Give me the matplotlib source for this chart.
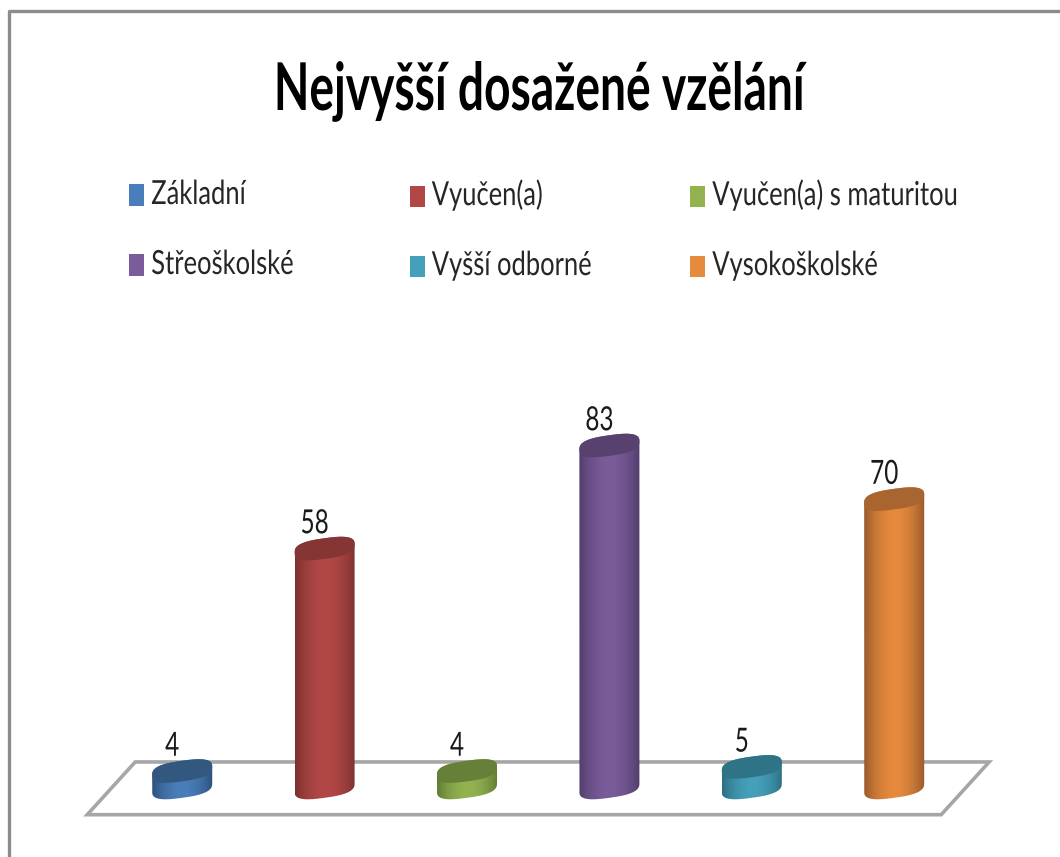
import numpy as np
import matplotlib
matplotlib.use("Agg")
import matplotlib.pyplot as plt
import matplotlib.patheffects as pe
from matplotlib.patches import Patch, PathPatch, Polygon
from matplotlib.path import Path
from matplotlib.lines import Line2D
from matplotlib.colors import to_rgb
from matplotlib.transforms import Affine2D

plt.rcParams['font.family'] = ['Lato', 'Open Sans', 'DejaVu Sans']

title = "Nejvyšší dosažené vzělání"
categories = ["Základní", "Vyučen(a)", "Vyučen(a) s maturitou",
              "Střeoškolské", "Vyšší odborné", "Vysokoškolské"]
values = [4, 58, 4, 83, 5, 70]
colors = ["#4A7EBB", "#B14846", "#93B350", "#7A5C9A", "#45A0BA", "#E68A3E"]
edge_colors = ["#2C4F78", "#7A302F", "#5F7A33", "#503C6B", "#2B6C80", "#96582A"]
top_colors = ["#33587F", "#843534", "#66803A", "#57426F", "#2F7386", "#A8652F"]


class TallText(pe.AbstractPathEffect):
    """The reference picture is squeezed sideways: make glyphs taller about the baseline."""

    def __init__(self, sy):
        super().__init__()
        self.sy = sy

    def draw_path(self, renderer, gc, tpath, affine, rgbFace=None):
        m = affine.get_matrix().copy()
        m[1, 0] *= self.sy
        m[1, 1] *= self.sy
        renderer.draw_path(gc, tpath, Affine2D(m), rgbFace)


W, H = 1060, 857
px_per_unit = 4.12
y_low, y_high = -15, 100
zero_px = 787.5
fig = plt.figure(figsize=(W / 100, H / 100), dpi=100, facecolor="white")
ax = fig.add_axes([111 / W, (H - zero_px + y_low * px_per_unit) / H,
                   854.4 / W, (y_high - y_low) * px_per_unit / H])
ax.axis("off")

x_pos = np.arange(len(values))
half_w, ell_b, ell_s = 0.2107, 2.5, 1.0
t = np.linspace(0, np.pi, 80)
p = 0.72


def spow(a):
    return np.sign(a) * np.abs(a) ** p


def upper(cx, base):
    return cx + half_w * spow(np.cos(t)), base + ell_b * spow(np.sin(t)) + ell_s * spow(np.cos(t))


def lower(cx, base):
    return cx - half_w * spow(np.cos(t)), base - ell_b * spow(np.sin(t)) - ell_s * spow(np.cos(t))


# floor
floor_x0, floor_x1 = -0.667, 5.667
floor_front, floor_back = -6.6, 6.2
depth = 0.337
ax.add_patch(Polygon([(floor_x0, floor_front), (floor_x0 + depth, floor_back),
                      (floor_x1, floor_back), (floor_x1 - depth, floor_front)],
                     closed=True, fc="white", ec="#a6a6a6", lw=2.6, clip_on=False,
                     joinstyle="miter", zorder=1))

grad = np.linspace(0, 1, 200)
shade = np.clip(1 - (np.abs(grad - 0.5) / 0.5) ** 1.8, 0, 1) ** 0.9

for x, v, c, e, tc in zip(x_pos, values, colors, edge_colors, top_colors):
    ux, uy = upper(x, v)
    lx, ly = lower(x, 0)
    verts = np.r_[np.c_[ux, uy], np.c_[lx, ly], [[ux[0], uy[0]]]]
    body = PathPatch(Path(verts), fc="none", ec="none", transform=ax.transData)
    ax.add_patch(body)
    rgb = np.outer(1 - shade, to_rgb(e)) + np.outer(shade, to_rgb(c))
    im = ax.imshow(rgb[None, :, :], extent=(x - half_w, x + half_w, -5, v + 5),
                   aspect="auto", interpolation="bilinear", zorder=2)
    im.set_clip_path(body)
    tx, ty = lower(x, v)
    ax.fill(np.r_[ux, tx], np.r_[uy, ty], fc=tc, ec="none", zorder=3, clip_on=False)
    ann = ax.annotate(str(v), (x, v), xytext=(-7.2, 11), textcoords="offset points",
                      ha="center", va="baseline", fontsize=17.5, color="#1a1a1a", zorder=4)
    ann.set_path_effects([TallText(1.37)])

ax.set_xlim(-0.5, 5.5)
ax.set_ylim(y_low, y_high)

# frame of the picture: only left and top sides are visible
fig.add_artist(Line2D([8.5 / W, 8.5 / W, 1], [0, (H - 11) / H, (H - 11) / H],
                      color="#8c8c8c", lw=2.4, transform=fig.transFigure))

ttl = fig.text(540 / W, (H - 110) / H, title, ha="center", va="baseline",
               fontsize=33.2, fontweight="bold", color="black")
ttl.set_path_effects([TallText(1.43)])

# legend: three evenly spaced columns
n_cols = 3
for col in range(n_cols):
    idx = list(range(col, len(categories), n_cols))
    handles = [Patch(fc=colors[i], ec="none", label=categories[i]) for i in idx]
    leg = fig.legend(handles=handles, loc="upper left",
                     bbox_to_anchor=((129 + 280.5 * col) / W, (H - 184) / H),
                     frameon=False, fontsize=18.4, borderpad=0, borderaxespad=0,
                     handlelength=0.59, handleheight=0.92, handletextpad=0.28,
                     labelspacing=1.76, labelcolor="#262626")
    for txt in leg.get_texts():
        txt.set_path_effects([TallText(1.3)])

fig.savefig("out.png", dpi=100, facecolor="white")
